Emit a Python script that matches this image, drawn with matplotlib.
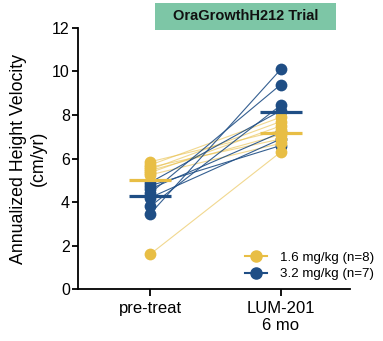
import numpy as np
import matplotlib.pyplot as plt
from matplotlib.patches import Rectangle

plt.rcParams['font.family'] = ['Liberation Sans', 'DejaVu Sans']

groups = ["1.6 mg/kg (n=8)", "3.2 mg/kg (n=7)"]
timepoints = ["pre-treat", "LUM-201\n6 mo"]
low_pre = [5.85, 5.7, 5.6, 5.5, 5.45, 5.35, 5.25, 1.6]
low_post = [7.3, 7.9, 6.9, 7.7, 7.1, 7.5, 6.7, 6.3]
high_pre = [4.9, 4.75, 4.6, 4.4, 4.2, 3.8, 3.45]
high_post = [8.2, 6.6, 7.2, 9.4, 6.9, 8.45, 10.1]

yellow = "#E8BE45"
blue = "#1F4E85"

fig = plt.figure(figsize=(3.83, 3.41), dpi=100)
ax = fig.add_axes([0.204, 0.152, 0.71, 0.766])

x = [0, 1]
for a, b in zip(low_pre, low_post):
    ax.plot(x, [a, b], color=yellow, lw=0.8, alpha=0.6, zorder=1)
for a, b in zip(high_pre, high_post):
    ax.plot(x, [a, b], color=blue, lw=0.8, alpha=0.9, zorder=1)

# blue under yellow
ax.scatter([0]*len(high_pre), high_pre, s=72, color=blue, zorder=2, linewidths=0)
ax.scatter([1]*len(high_post), high_post, s=72, color=blue, zorder=2, linewidths=0)
ax.scatter([0]*len(low_pre), low_pre, s=72, color=yellow, zorder=3, linewidths=0)
ax.scatter([1]*len(low_post), low_post, s=72, color=yellow, zorder=3, linewidths=0)

# group means
w = 0.16
for xi, vals, c in [(0, low_pre, yellow), (1, low_post, yellow),
                    (0, high_pre, blue), (1, high_post, blue)]:
    m = np.mean(vals)
    ax.plot([xi - w, xi + w], [m, m], color=c, lw=2.3, zorder=4, solid_capstyle='butt')

ax.set_xlim(-0.55, 1.53)
ax.set_ylim(0, 12)
ax.set_yticks([0, 2, 4, 6, 8, 10, 12])
ax.set_xticks(x)
ax.set_xticklabels(timepoints, fontsize=12)
ax.tick_params(axis='y', labelsize=11.5, length=4, width=1.3, pad=2)
ax.tick_params(axis='x', length=5, width=1.3)
ax.set_ylabel("Annualized Height Velocity\n(cm/yr)", fontsize=12.8, labelpad=4)
for s in ['top', 'right']:
    ax.spines[s].set_visible(False)
for s in ['left', 'bottom']:
    ax.spines[s].set_linewidth(1.3)

h1, = ax.plot([], [], color=yellow, marker='o', ms=8, lw=1.5)
h2, = ax.plot([], [], color=blue, marker='o', ms=8, lw=1.5)
fig.legend([h1, h2], groups, loc='upper left', bbox_to_anchor=(0.64, 0.262),
           frameon=False, fontsize=9.6, handlelength=1.65, handletextpad=1.0,
           labelspacing=0.3, borderpad=0, borderaxespad=0)

fig.patches.append(Rectangle((0.405, 0.912), 0.4726, 0.080, transform=fig.transFigure,
                             fc='#7DC6A6', ec='none', figure=fig))
fig.text(0.641, 0.952, "OraGrowthH212 Trial", ha='center', va='center',
         fontsize=10.5, fontweight='bold', color='#111111')

fig.savefig("out.png", dpi=100)
